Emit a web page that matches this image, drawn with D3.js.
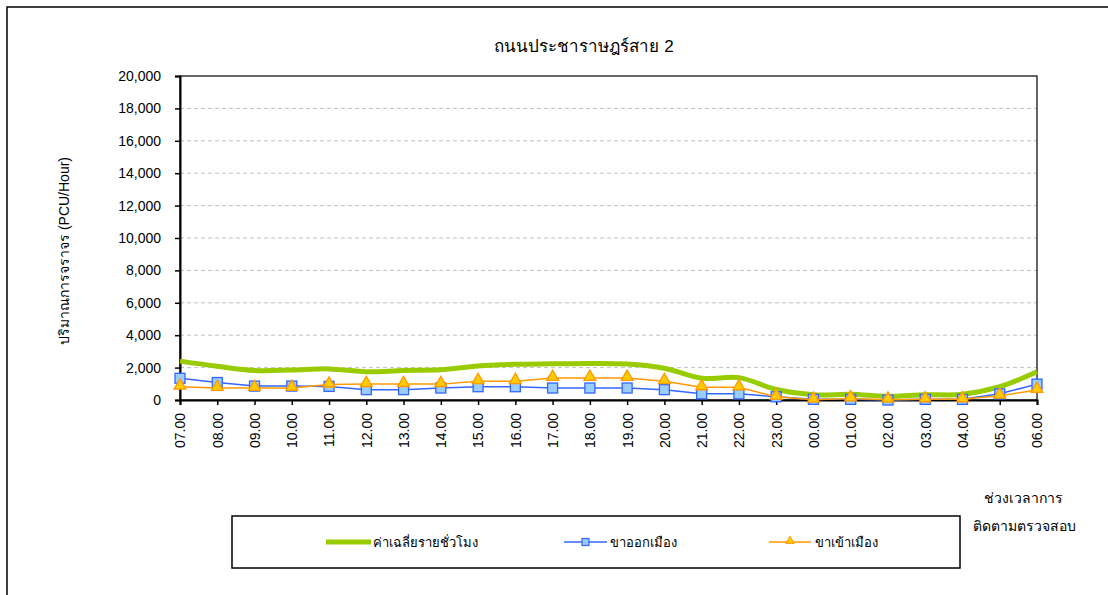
<!DOCTYPE html>
<html>
<head>
<meta charset="utf-8">
<script src="https://cdn.jsdelivr.net/npm/d3@7"></script>
<style>
  body { margin: 0; background: #ffffff; }
  svg text { font-family: Arial, "Liberation Sans", "Noto Sans", sans-serif; fill: #000; }
</style>
</head>
<body>
<svg id="svgLineChart" width="1108" height="595"></svg>
<script>

// #region data
var chartTitle = "ถนนประชาราษฎร์สาย 2";
var yAxisTitle = "ปริมาณการจราจร (PCU/Hour)";
var xAxisTitle = ["ช่วงเวลาการ", "ติดตามตรวจสอบ"];

var hours = ["07.00", "08.00", "09.00", "10.00", "11.00", "12.00", "13.00", "14.00",
  "15.00", "16.00", "17.00", "18.00", "19.00", "20.00", "21.00", "22.00",
  "23.00", "00.00", "01.00", "02.00", "03.00", "04.00", "05.00", "06.00"];

var yTicks = [0, 2000, 4000, 6000, 8000, 10000, 12000, 14000, 16000, 18000, 20000];

// hourly average (smoothed green line)
var hourlyAverage = [2400, 2080, 1820, 1850, 1920, 1740, 1820, 1860,
  2100, 2200, 2230, 2260, 2220, 1960, 1340, 1380,
  650, 320, 350, 220, 320, 350, 820, 1740];

// outbound
var outbound = [1340, 1080, 860, 860, 840, 640, 640, 740,
  820, 820, 740, 740, 740, 640, 380, 380,
  200, 40, 40, 0, 40, 40, 380, 980];

// inbound
var inbound = [820, 740, 740, 740, 950, 980, 980, 980,
  1160, 1160, 1360, 1360, 1360, 1160, 780, 780,
  200, 20, 100, 20, 40, 40, 260, 620];

var seriesNames = ["ค่าเฉลี่ยรายชั่วโมง", "ขาออกเมือง", "ขาเข้าเมือง"];
// #endregion


var vis = d3.select('#svgLineChart'),
  MARGINS = { top: 76, right: 1037, bottom: 400, left: 180 };

var xRange = d3.scalePoint()
  .domain(hours)
  .range([MARGINS.left, MARGINS.right]);

var yRange = d3.scaleLinear()
  .domain([0, 20000])
  .range([MARGINS.bottom, MARGINS.top]);

// outer chart frame (runs off the page on right / bottom)
vis.append('rect')
  .attr('x', 7).attr('y', 7)
  .attr('width', 1130).attr('height', 620)
  .attr('fill', 'none')
  .attr('stroke', '#000')
  .attr('stroke-width', 1.5);

// title
vis.append('text')
  .attr('x', 584)
  .attr('y', 52)
  .attr('text-anchor', 'middle')
  .style('font-size', '17px')
  .text(chartTitle);

// gridlines
vis.append('g')
  .selectAll('line')
  .data(yTicks.filter(function (d) { return d > 0 && d < 20000; }))
  .enter().append('line')
  .attr('x1', MARGINS.left).attr('x2', MARGINS.right)
  .attr('y1', function (d) { return yRange(d); })
  .attr('y2', function (d) { return yRange(d); })
  .attr('stroke', '#c0c0c0')
  .attr('stroke-width', 1)
  .attr('stroke-dasharray', '4,3');

// plot area border
vis.append('rect')
  .attr('x', MARGINS.left).attr('y', MARGINS.top)
  .attr('width', MARGINS.right - MARGINS.left)
  .attr('height', MARGINS.bottom - MARGINS.top)
  .attr('fill', 'none')
  .attr('stroke', '#000')
  .attr('stroke-width', 1.2);

// y-axis
var yAxis = d3.axisLeft(yRange)
  .tickValues(yTicks)
  .tickSize(5)
  .tickPadding(14)
  .tickFormat(d3.format(','));

var yG = vis.append('g')
  .attr('transform', 'translate(' + MARGINS.left + ',0)')
  .call(yAxis);
yG.select('.domain').attr('stroke-width', 2);
yG.selectAll('.tick line').attr('stroke-width', 1.5);
yG.selectAll('.tick text')
  .style('font-size', '14px')
  .style('font-family', 'Arial, "Liberation Sans", sans-serif');

// x-axis
var xAxis = d3.axisBottom(xRange)
  .tickSize(5)
  .tickPadding(8);

var xG = vis.append('g')
  .attr('transform', 'translate(0,' + MARGINS.bottom + ')')
  .call(xAxis);
xG.select('.domain').attr('stroke-width', 2);
xG.selectAll('.tick line').attr('stroke-width', 1.5);
xG.selectAll('.tick text')
  .style('font-size', '14px')
  .style('font-family', 'Arial, "Liberation Sans", sans-serif')
  .attr('text-anchor', 'end')
  .attr('transform', 'rotate(-90)')
  .attr('x', -13)
  .attr('y', 0)
  .attr('dy', '0.35em');

// y axis label
vis.append('text')
  .attr('transform', 'translate(69,251) rotate(-90)')
  .attr('text-anchor', 'middle')
  .style('font-size', '14px')
  .text(yAxisTitle);

// x axis label (two lines at right)
vis.append('text')
  .attr('x', 1023).attr('y', 503)
  .attr('text-anchor', 'middle')
  .style('font-size', '14px')
  .text(xAxisTitle[0]);
vis.append('text')
  .attr('x', 1024).attr('y', 531)
  .attr('text-anchor', 'middle')
  .style('font-size', '14px')
  .text(xAxisTitle[1]);


// #region lines
function lineData(values) {
  return hours.map(function (h, i) { return { hour: h, value: values[i] }; });
}

var smoothLine = d3.line()
  .x(function (d) { return xRange(d.hour); })
  .y(function (d) { return yRange(d.value); })
  .curve(d3.curveCatmullRom.alpha(0.5));

var straightLine = d3.line()
  .x(function (d) { return xRange(d.hour); })
  .y(function (d) { return yRange(d.value); })
  .curve(d3.curveLinear);

// average
vis.append('path')
  .attr('d', smoothLine(lineData(hourlyAverage)))
  .attr('stroke', '#99cc00')
  .attr('stroke-width', 5)
  .attr('fill', 'none');

// outbound
vis.append('path')
  .attr('d', straightLine(lineData(outbound)))
  .attr('stroke', '#3366ff')
  .attr('stroke-width', 1.5)
  .attr('fill', 'none');

vis.append('g')
  .selectAll('rect')
  .data(lineData(outbound))
  .enter().append('rect')
  .attr('x', function (d) { return xRange(d.hour) - 5; })
  .attr('y', function (d) { return yRange(d.value) - 5; })
  .attr('width', 10).attr('height', 10)
  .attr('fill', '#99ccff')
  .attr('stroke', '#3366ff')
  .attr('stroke-width', 1.3);

// inbound
vis.append('path')
  .attr('d', straightLine(lineData(inbound)))
  .attr('stroke', '#ff9900')
  .attr('stroke-width', 1.5)
  .attr('fill', 'none');

var triangle = d3.symbol().type(d3.symbolTriangle).size(60);

vis.append('g')
  .selectAll('path')
  .data(lineData(inbound))
  .enter().append('path')
  .attr('d', triangle)
  .attr('transform', function (d) {
    return 'translate(' + xRange(d.hour) + ',' + (yRange(d.value) - 1) + ')';
  })
  .attr('fill', '#ffcc00')
  .attr('stroke', '#ff9900')
  .attr('stroke-width', 1.3);
// #endregion


// #region legend
vis.append('rect')
  .attr('x', 232).attr('y', 516)
  .attr('width', 728).attr('height', 52)
  .attr('fill', '#fff')
  .attr('stroke', '#000')
  .attr('stroke-width', 1.5);

var legendY = 542;

vis.append('line')
  .attr('x1', 326).attr('x2', 371)
  .attr('y1', legendY).attr('y2', legendY)
  .attr('stroke', '#99cc00').attr('stroke-width', 5);
vis.append('text')
  .attr('x', 373).attr('y', legendY).attr('dy', '0.35em')
  .style('font-size', '13px')
  .text(seriesNames[0]);

vis.append('line')
  .attr('x1', 564).attr('x2', 607)
  .attr('y1', legendY).attr('y2', legendY)
  .attr('stroke', '#3366ff').attr('stroke-width', 1.5);
vis.append('rect')
  .attr('x', 582).attr('y', legendY - 3.5)
  .attr('width', 7).attr('height', 7)
  .attr('fill', '#99ccff').attr('stroke', '#3366ff').attr('stroke-width', 1.2);
vis.append('text')
  .attr('x', 610).attr('y', legendY).attr('dy', '0.35em')
  .style('font-size', '13px')
  .text(seriesNames[1]);

vis.append('line')
  .attr('x1', 769).attr('x2', 811)
  .attr('y1', legendY).attr('y2', legendY)
  .attr('stroke', '#ff9900').attr('stroke-width', 1.5);
vis.append('path')
  .attr('d', d3.symbol().type(d3.symbolTriangle).size(30))
  .attr('transform', 'translate(790,' + (legendY - 1) + ')')
  .attr('fill', '#ffcc00').attr('stroke', '#ff9900').attr('stroke-width', 1);
vis.append('text')
  .attr('x', 815).attr('y', legendY).attr('dy', '0.35em')
  .style('font-size', '13px')
  .text(seriesNames[2]);
// #endregion

</script>
</body>
</html>
